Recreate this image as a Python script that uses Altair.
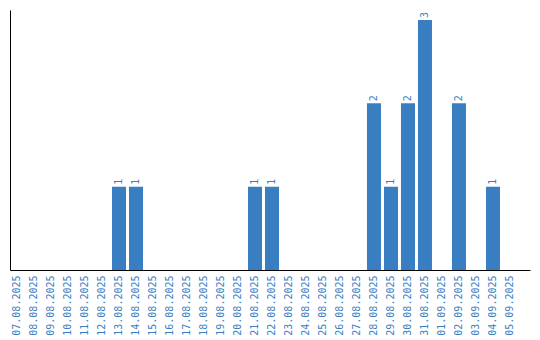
import altair as alt
import pandas as pd

dates = ["07.08.2025", "08.08.2025", "09.08.2025", "10.08.2025", "11.08.2025",
         "12.08.2025", "13.08.2025", "14.08.2025", "15.08.2025", "16.08.2025",
         "17.08.2025", "18.08.2025", "19.08.2025", "20.08.2025", "21.08.2025",
         "22.08.2025", "23.08.2025", "24.08.2025", "25.08.2025", "26.08.2025",
         "27.08.2025", "28.08.2025", "29.08.2025", "30.08.2025", "31.08.2025",
         "01.09.2025", "02.09.2025", "03.09.2025", "04.09.2025", "05.09.2025"]
counts = [0, 0, 0, 0, 0, 0, 1, 1, 0, 0,
          0, 0, 0, 0, 1, 1, 0, 0, 0, 0,
          0, 2, 1, 2, 3, 0, 2, 0, 1, 0]

df = pd.DataFrame({"date": dates, "count": counts})
BLUE = "#3a7ec2"
FONT = "DejaVu Sans Mono"

x = alt.X("date:N", sort=dates, title=None,
          scale=alt.Scale(paddingInner=0.176, paddingOuter=0.383, align=0),
          axis=alt.Axis(labelAngle=-90, labelAlign="right", labelBaseline="middle",
                        ticks=False, labelPadding=5, labelColor=BLUE,
                        labelFont=FONT, labelFontSize=10,
                        domainColor="black", domainWidth=1, grid=False))
y = alt.Y("count:Q", title=None,
          scale=alt.Scale(domain=[0, 3.12], nice=False),
          axis=alt.Axis(labels=False, ticks=False, grid=False,
                        domainColor="black", domainWidth=1))

bars = alt.Chart(df).mark_bar(color=BLUE).encode(x=x, y=y)
texts = alt.Chart(df).transform_filter("datum.count > 0").mark_text(
    angle=270, align="left", baseline="middle", dx=2,
    font=FONT, fontSize=10, color=BLUE
).encode(x=x, y=y, text="count:Q")

chart = alt.layer(bars, texts).properties(
    width=520, height=260,
    autosize=alt.AutoSizeParams(type="none"),
    padding={"left": 10, "top": 10, "right": 10, "bottom": 70},
).configure_view(stroke=None)

chart.save("out.html", embed_options={"renderer": "svg", "actions": False})
